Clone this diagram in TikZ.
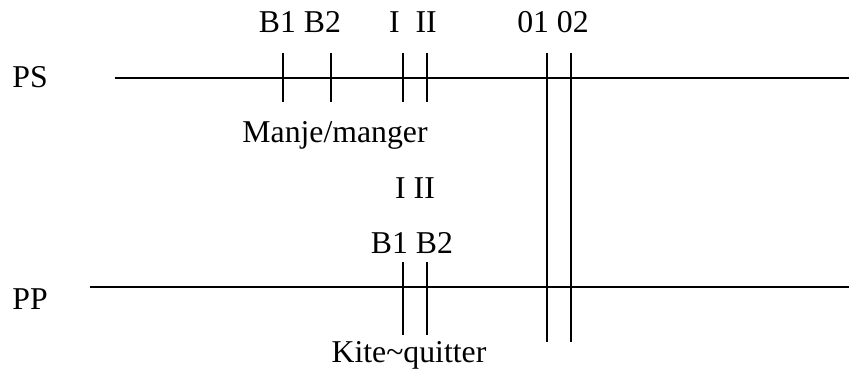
\documentclass[tikz,border=0pt]{standalone}
\usepackage{fontspec}
\setmainfont{Liberation Serif}
\begin{document}
\begin{tikzpicture}[x=0.4pt, y=-0.4pt]
  \tikzstyle{lbl}=[anchor=base, inner sep=0pt, font=\fontsize{12.7}{15}\selectfont]
  \tikzstyle{line}=[line width=0.7pt]

  \useasboundingbox (0, 0) rectangle (849, 371);

  \node[lbl, anchor=base west] (ps) at (12, 88)  {PS};
  \node[lbl, anchor=base west] (pp) at (12, 310) {PP};

  \node[lbl] (tb) at (300, 33) {B1 B2};
  \node[lbl] (ti) at (413, 33) {I\ \ II};
  \node[lbl] (to) at (553, 33) {01 02};
  \node[lbl] (manje) at (335, 143) {Manje/manger};
  \node[lbl] (bi) at (415, 199) {I II};
  \node[lbl] (bb) at (412, 254) {B1 B2};
  \node[lbl] (kite) at (409, 363) {Kite\textasciitilde quitter};

  \coordinate (s0) at (115, 78);
  \coordinate (s1) at (849, 78);
  \coordinate (p0) at (90, 287);
  \coordinate (p1) at (849, 287);

  \coordinate (t1a) at (283, 53);  \coordinate (t1b) at (283, 102);
  \coordinate (t2a) at (331, 53);  \coordinate (t2b) at (331, 102);
  \coordinate (t3a) at (403, 53);  \coordinate (t3b) at (403, 102);
  \coordinate (t4a) at (427, 53);  \coordinate (t4b) at (427, 102);

  \coordinate (o1a) at (547, 53);  \coordinate (o1b) at (547, 342);
  \coordinate (o2a) at (571, 53);  \coordinate (o2b) at (571, 342);

  \coordinate (u1a) at (403, 262); \coordinate (u1b) at (403, 335);
  \coordinate (u2a) at (427, 262); \coordinate (u2b) at (427, 335);

  \draw[line] (s0) -- (s1);
  \draw[line] (p0) -- (p1);
  \draw[line] (t1a) -- (t1b);
  \draw[line] (t2a) -- (t2b);
  \draw[line] (t3a) -- (t3b);
  \draw[line] (t4a) -- (t4b);
  \draw[line] (o1a) -- (o1b);
  \draw[line] (o2a) -- (o2b);
  \draw[line] (u1a) -- (u1b);
  \draw[line] (u2a) -- (u2b);
\end{tikzpicture}
\end{document}
